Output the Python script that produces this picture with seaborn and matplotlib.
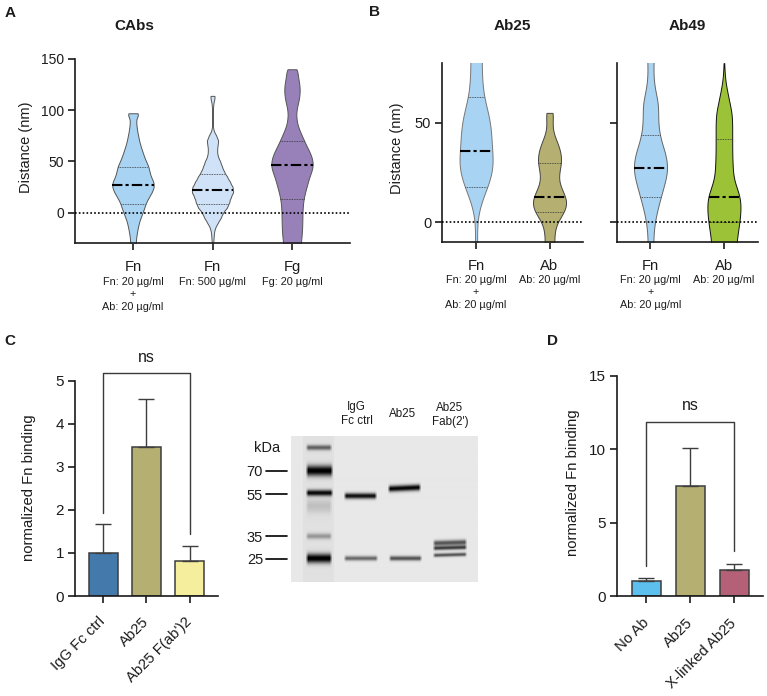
import numpy as np
import pandas as pd
import seaborn as sns
import matplotlib.pyplot as plt

W, H = 767, 696

# Panel A: distance, weight = violin half width at that distance
cabs_fn_dist = [-45,-40,-35,-30,-25,-20,-15,-10,-5,0,5,10,15,20,25,30,35,40,45,50,55,60,65,70,75,80,85,90,95,97]
cabs_fn_wt = [5,6,6,8,9,11,14,17,22,28,33,38,46,55,61,60,52,48,45,38,32,27,22,18,15,12,10,9,9,12]
cabs_fn500_dist = [-45,-40,-35,-30,-25,-20,-15,-10,-5,0,5,10,15,20,25,30,35,40,45,50,55,60,65,70,75,80,85,90,95,100,105,110,114]
cabs_fn500_wt = [2,2,2,2,3,4,7,15,24,30,42,48,52,60,58,50,42,33,27,22,15,13,14,17,11,3,1,1,1,1,2,4,6]
cabs_fg_dist = [-45,-40,-35,-30,-25,-20,-15,-10,-5,0,5,10,15,20,25,30,35,40,45,50,55,60,65,70,75,80,85,90,95,100,105,110,115,120,125,130,135,140]
cabs_fg_wt = [25,25,25,25,27,29,29,30,30,30,31,32,34,38,42,46,50,56,62,60,57,50,42,35,29,22,16,13,12,12,16,20,22,23,22,19,15,20]
cabs_labels = ["Fn", "Fn", "Fg"]
cabs_sub = ["Fn: 20 µg/ml\n+\nAb: 20 µg/ml", "Fn: 500 µg/ml", "Fg: 20 µg/ml"]
cabs_quart = [(8, 27, 45), (8, 22.5, 38), (13, 46, 70)]
cabs_colors = ["#A9D3F2", "#CFE2F7", "#9880B8"]

# Panel B
ab25_fn_dist = [-20,-15,-10,-5,0,5,10,15,20,25,30,35,40,45,50,55,60,65,70,75,80,85,90]
ab25_fn_wt = [3,3,3,3,3,7,15,26,38,46,50,47,45,44,41,35,27,21,18,17,16,16,22]
ab25_ab_dist = [-20,-15,-10,-5,0,5,10,15,20,25,30,35,40,45,50,55]
ab25_ab_wt = [13,13,13,13,19,40,50,38,24,25,33,31,22,9,7,12]
ab49_fn_dist = [-20,-15,-10,-5,0,5,10,15,20,25,30,35,40,45,50,55,60,65,70,75,80,85,90]
ab49_fn_wt = [8,8,8,9,12,18,25,33,41,48,48,42,32,25,22,22,22,15,10,8,9,9,12]
ab49_ab_dist = [-20,-15,-10,-5,0,5,10,15,20,25,30,35,40,45,50,55,60,65,70,75,80]
ab49_ab_wt = [36,37,38,42,47,50,51,45,32,27,26,25,25,25,25,24,17,11,5,2,1]
ab_labels = ["Fn", "Ab"]
ab_sub = ["Fn: 20 µg/ml\n+\nAb: 20 µg/ml", "Ab: 20 µg/ml"]
ab25_quart = [(18, 36, 63), (5, 13, 30)]
ab49_quart = [(13, 27.5, 44), (0, 13, 42)]
ab25_colors = ["#A9D3F2", "#B5AF72"]
ab49_colors = ["#A9D3F2", "#9CC338"]

# Panel C
c_names = ["IgG Fc ctrl", "Ab25", "Ab25 F(ab')2"]
c_vals = [1.0, 3.46, 0.82]
c_upper = [1.67, 4.58, 1.16]
c_colors = ["#4479AC", "#B5AF72", "#F5EE9C"]

# Panel D
d_names = ["No Ab", "Ab25", "X-linked Ab25"]
d_vals = [1.0, 7.5, 1.75]
d_upper = [1.2, 10.1, 2.2]
d_colors = ["#5CBFEE", "#B5AF72", "#B46076"]

# Gel: lane left, lane right, band centre, band half thickness, darkness, slant
gel_bands = [
    (14, 41, 12, 2.6, 0.55, 0), (14, 42, 35, 5.2, 1.00, 0), (14, 42, 57, 3.0, 0.95, 0),
    (14, 41, 70, 7.0, 0.14, 0), (14, 41, 100, 2.8, 0.32, 0), (14, 41, 122, 4.6, 1.00, 0),
    (52, 86, 60, 2.8, 0.95, 0), (52, 87, 122, 2.3, 0.55, 0),
    (96, 130, 53, 3.0, 1.00, -1.5), (97, 131, 122, 2.3, 0.65, 0),
    (141, 176, 107, 2.6, 0.65, -1), (141, 176, 112, 2.0, 0.75, -1), (141, 176, 119, 1.8, 0.65, -1),
]
kda_labels = ["70", "55", "35", "25"]
kda_rows = [470.7, 494, 536.3, 559]
lane_labels = ["IgG\nFc ctrl", "Ab25", "Ab25\nFab(2')"]

sns.set_style("ticks")
plt.rcParams["font.family"] = ["Liberation Sans", "DejaVu Sans"]
plt.rcParams["text.color"] = "#1c1c1c"
plt.rcParams["axes.labelcolor"] = "#1c1c1c"
plt.rcParams["xtick.labelcolor"] = "#1c1c1c"
plt.rcParams["ytick.labelcolor"] = "#1c1c1c"

fig = plt.figure(figsize=(W / 100, H / 100), dpi=100)


def px_axes(left, top, right, bottom, size):
    ax = fig.add_axes([left / W, 1 - bottom / H, (right - left) / W, (bottom - top) / H])
    ax.patch.set_alpha(0)
    sns.despine(ax=ax)
    for side in ["left", "bottom"]:
        ax.spines[side].set_linewidth(1.2)
        ax.spines[side].set_color("#1a1a1a")
    ax.tick_params(length=5, width=1.2, color="#1a1a1a", labelsize=size, pad=3)
    return ax


def px_text(x, y, s, **kw):
    kw.setdefault("ha", "center")
    kw.setdefault("va", "center")
    fig.text(x / W, 1 - y / H, s, **kw)


def px_ylabel(ax, s, x, y, size):
    # x is the centre of the label in figure pixels, the label hangs left of its anchor
    ax.set_ylabel(s, fontsize=size)
    box = ax.get_position()
    ax.yaxis.set_label_coords(((x + 6.5) / W - box.x0) / box.width, ((1 - y / H) - box.y0) / box.height)


def half_width(poly, center, level):
    pts = poly.get_paths()[0].vertices
    right = pts[pts[:, 0] >= center]
    right = right[np.argsort(right[:, 1])]
    return np.interp(level, right[:, 1], right[:, 0]) - center


def violins(ax, dists, wts, labels, quarts, colors, width, bw, xlim, ylim, edges):
    rows = []
    for i, (d, w) in enumerate(zip(dists, wts)):
        rows.append(pd.DataFrame({"group": i, "distance": np.repeat(d, w)}))
    df = pd.concat(rows)
    sns.violinplot(data=df, x="group", y="distance", hue="group", palette=colors, legend=False,
                   cut=0, inner=None, density_norm="width", width=width, bw_method=bw,
                   linewidth=0.7, saturation=1, ax=ax)
    polys = ax.collections[:len(dists)]
    for i, poly in enumerate(polys):
        poly.set_edgecolor(edges[i])
        lo, med, hi = quarts[i]
        for level in (lo, hi):
            w = half_width(poly, i, level)
            ax.plot([i - w, i + w], [level, level], color="#333333", lw=0.6, ls=(0, (1, 1)), zorder=3)
        w = half_width(poly, i, med)
        ax.plot([i - w, i + w], [med, med], color="black", lw=1.5, ls=(0, (5, 1.5, 1.5, 1.5)), zorder=4)
    ax.axhline(0, color="black", lw=1.2, ls=(0, (1, 1.3)), zorder=5)
    ax.set_xlim(*xlim)
    ax.set_ylim(*ylim)
    ax.set_xticks(range(len(labels)))
    ax.set_xticklabels(labels)
    ax.set_xlabel("")
    ax.tick_params(axis="x", labelsize=10.6, pad=7)


# A
ax_a = px_axes(75, 59, 350, 243.3, 10)
violins(ax_a, [cabs_fn_dist, cabs_fn500_dist, cabs_fg_dist], [cabs_fn_wt, cabs_fn500_wt, cabs_fg_wt],
        cabs_labels, cabs_quart, cabs_colors, 0.52, 0.1, (-0.73, 2.73), (-30, 150), ["#555555", "#555555", "#555555"])
ax_a.set_yticks([0, 50, 100, 150])
px_ylabel(ax_a, "Distance (nm)", 26.7, 147, 10.5)
for px, s in zip([133, 212, 292], cabs_sub):
    px_text(px, 277, s, va="top", fontsize=7.8, linespacing=1.3)

# B
ax_b1 = px_axes(442.3, 62.7, 583.3, 242.3, 10.5)
violins(ax_b1, [ab25_fn_dist, ab25_ab_dist], [ab25_fn_wt, ab25_ab_wt], ab_labels, ab25_quart, ab25_colors,
        0.45, 0.2, (-0.46, 1.46), (-10, 80.2), ["#777777", "#444444"])
ax_b1.set_yticks([0, 50])
px_ylabel(ax_b1, "Distance (nm)", 397.7, 148, 10.5)
for px, s in zip([476, 549.3], ab_sub):
    px_text(px, 275, s, va="top", fontsize=7.8, linespacing=1.3)

ax_b2 = px_axes(616.7, 62.7, 757.7, 242.3, 10.5)
violins(ax_b2, [ab49_fn_dist, ab49_ab_dist], [ab49_fn_wt, ab49_ab_wt], ab_labels, ab49_quart, ab49_colors,
        0.45, 0.15, (-0.46, 1.46), (-10, 80.2), ["#666666", "#111111"])
ax_b2.set_yticks([0, 50])
ax_b2.set_yticklabels([])
ax_b2.set_ylabel("")
for px, s in zip([650.3, 723.7], ab_sub):
    px_text(px, 275, s, va="top", fontsize=7.8, linespacing=1.3)


def bars(ax, names, vals, upper, colors, ylim, bracket_y, left_drop, right_drop, xlim, pad):
    sns.barplot(x=names, y=vals, hue=names, palette=colors, legend=False, width=0.66, saturation=1,
                edgecolor="#3d3d3d", linewidth=1.1, errorbar=None, ax=ax)
    err = [np.zeros(len(vals)), np.array(upper) - np.array(vals)]
    ax.errorbar(range(len(vals)), vals, yerr=err, fmt="none", ecolor="#3d3d3d", elinewidth=1.0,
                capsize=6, capthick=1.0, zorder=1)
    ax.plot([0, 0, 2, 2], [left_drop, bracket_y, bracket_y, right_drop], color="#3a3a3a", lw=1.0,
            clip_on=False)
    ax.set_xlim(*xlim)
    ax.set_ylim(*ylim)
    ax.tick_params(axis="x", labelsize=10.7, pad=pad)
    plt.setp(ax.get_xticklabels(), rotation=45, ha="right", va="center", rotation_mode="anchor")


# C
ax_c = px_axes(75.3, 380.7, 218, 596, 11)
bars(ax_c, c_names, c_vals, c_upper, c_colors, (0, 5), 5.17, 1.93, 1.43, (-0.65, 2.66), 12)
ax_c.set_yticks([0, 1, 2, 3, 4, 5])
px_ylabel(ax_c, "normalized Fn binding", 29, 488, 10.7)
px_text(146.7, 357, "ns", fontsize=11.5)

# D
ax_d = px_axes(617.3, 375.7, 763.3, 596, 11)
bars(ax_d, d_names, d_vals, d_upper, d_colors, (0, 15), 11.87, 2.04, 3.08, (-0.66, 2.66), 13)
ax_d.set_yticks([0, 5, 10, 15])
px_ylabel(ax_d, "normalized Fn binding", 573, 483, 10.7)
px_text(690.3, 405, "ns", fontsize=11.5)

# Gel
ax_g = fig.add_axes([291 / W, 1 - 582.3 / H, 186.7 / W, 146.3 / H])
rows, cols = np.mgrid[0:146, 0:187]
gel = np.full(rows.shape, 0.91)
gel[:, 12:43] -= 0.03
for x0, x1, yc, t, dark, slant in gel_bands:
    xfade = np.clip((cols - x0) / 3.0, 0, 1) * np.clip((x1 - cols) / 3.0, 0, 1)
    centre = yc + slant * (cols - x0) / max(x1 - x0, 1)
    gel -= 0.91 * dark * xfade * np.exp(-((rows - centre) / t) ** 2)
ax_g.imshow(np.clip(gel, 0, 1), cmap="gray", vmin=0, vmax=1, aspect="auto", interpolation="bilinear")
ax_g.axis("off")

for s, y in zip(kda_labels, kda_rows):
    px_text(263, y + 1.5, s, ha="right", fontsize=10.5)
    fig.add_artist(plt.Line2D([266 / W, 287 / W], [1 - y / H, 1 - y / H], color="black", lw=1.2))
px_text(266.7, 448, "kDa", fontsize=10.5)
for px, py, s in zip([356.7, 403, 450], [414, 414, 415], lane_labels):
    px_text(px, py, s, fontsize=8.4, linespacing=1.2)

# panel letters and titles
for x, y, s in [(10, 13, "A"), (374, 12, "B"), (10, 341, "C"), (552.7, 341, "D")]:
    px_text(x, y, s, fontsize=11, fontweight="bold")
for x, s in [(134.7, "CAbs"), (512.7, "Ab25"), (687, "Ab49")]:
    px_text(x, 26, s, fontsize=11, fontweight="bold")

fig.savefig("out.png", dpi=100)
